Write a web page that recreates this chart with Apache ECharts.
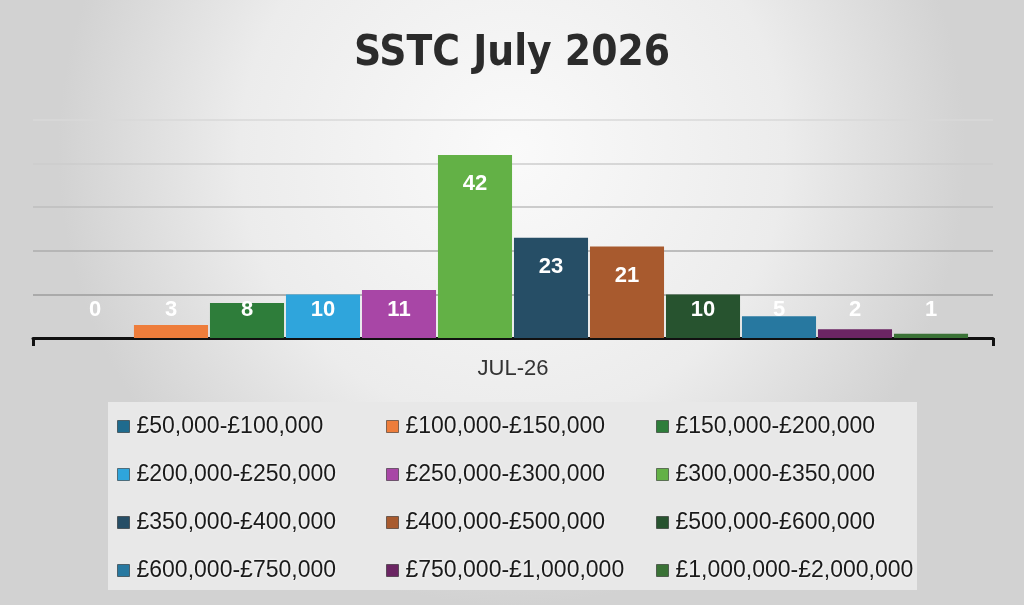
<!DOCTYPE html>
<html>
<head>
<meta charset="utf-8">
<script src="https://cdn.jsdelivr.net/npm/echarts@6/dist/echarts.min.js"></script>
<style>
  html, body { margin: 0; padding: 0; }
  #main { width: 1024px; height: 605px; }
</style>
</head>
<body>
<div id="main"></div>
<script>
var dom = document.getElementById("main");
var myChart = echarts.init(dom, null, { renderer: "canvas" });

// price bands, July 2026 counts
var months = ["JUL-26"];
var bands = [
  "£50,000-£100,000", "£100,000-£150,000", "£150,000-£200,000",
  "£200,000-£250,000", "£250,000-£300,000", "£300,000-£350,000",
  "£350,000-£400,000", "£400,000-£500,000", "£500,000-£600,000",
  "£600,000-£750,000", "£750,000-£1,000,000", "£1,000,000-£2,000,000"
];
var counts = [0, 3, 8, 10, 11, 42, 23, 21, 10, 5, 2, 1];
var colors = [
  "#1f6b8e", "#ee7d3b", "#2e7d3a", "#2fa5dc", "#a846a6", "#63b146",
  "#264e66", "#a85a2e", "#27532f", "#2778a0", "#6b2563", "#3a7236"
];

var series = [];
for (var i = 0; i < bands.length; i++) {
  // tall bars get the label just under the top, short ones sit near the floor
  var big = counts[i] >= 20;
  series.push({
    name: bands[i],
    type: "bar",
    data: [counts[i]],
    itemStyle: { color: colors[i] },
    barGap: "2.6%",
    barCategoryGap: "5.2%",
    label: {
      show: true,
      position: big ? "insideTop" : "insideBottom",
      distance: big ? 18 : 17,
      color: "#fff",
      fontSize: 22,
      fontWeight: "bold",
      fontFamily: "Liberation Sans",
    },
  });
}

// legend in 3 columns of 4
function legendCol(col, left) {
  var names = [];
  for (var r = 0; r < 4; r++) names.push(bands[r * 3 + col]);
  return {
    data: names,
    orient: "vertical",
    left: left,
    top: 410,
    itemWidth: 12,
    itemHeight: 12,
    itemGap: 25,
    icon: "rect",
    itemStyle: { borderColor: "rgba(0,0,0,0.45)", borderWidth: 1 },
    selectedMode: false,
    textStyle: {
      fontSize: 23,
      color: "#1a1a1a",
      fontFamily: "Liberation Sans",
      padding: [0, 0, 0, 2],
      textShadowColor: "#ffffff",
      textShadowBlur: 3,
    },
  };
}

option = {
  backgroundColor: {
    type: "radial",
    x: 0.5, y: 0.25, r: 0.75,
    colorStops: [
      { offset: 0, color: "#fafafa" },
      { offset: 0.6, color: "#ececec" },
      { offset: 1, color: "#d2d2d2" },
    ],
  },
  animation: false,
  title: {
    text: "SSTC July 2026",
    left: "center",
    top: 28,
    textStyle: {
      fontSize: 42,
      fontWeight: "bold",
      color: "#2b2b2b",
      fontFamily: "DejaVu Sans Condensed",
    },
  },
  graphic: [
    {
      type: "rect",
      z: -1,
      shape: { x: 108, y: 402, width: 809, height: 188 },
      style: { fill: "#e8e8e8" },
    },
  ],
  legend: [legendCol(0, 112), legendCol(1, 381), legendCol(2, 651)],
  grid: { left: 33, right: 31, top: 120, bottom: 267 },
  xAxis: {
    type: "category",
    data: months,
    axisLine: { lineStyle: { color: "#111", width: 3 } },
    axisTick: { show: true, length: 8, lineStyle: { color: "#111", width: 3 } },
    axisLabel: { fontSize: 22, color: "#333", margin: 20, fontFamily: "Liberation Sans" },
  },
  yAxis: {
    type: "value",
    min: 0,
    max: 50,
    interval: 10,
    axisLabel: { show: false },
    axisLine: { show: false },
    axisTick: { show: false },
    splitLine: {
      lineStyle: {
        color: ["#999999", "#9c9c9c", "#acacac", "#bebebe", "#cccccc", "#d8d8d8"],
        width: 1.5,
      },
    },
  },
  series: series,
};

myChart.setOption(option);
</script>
</body>
</html>
